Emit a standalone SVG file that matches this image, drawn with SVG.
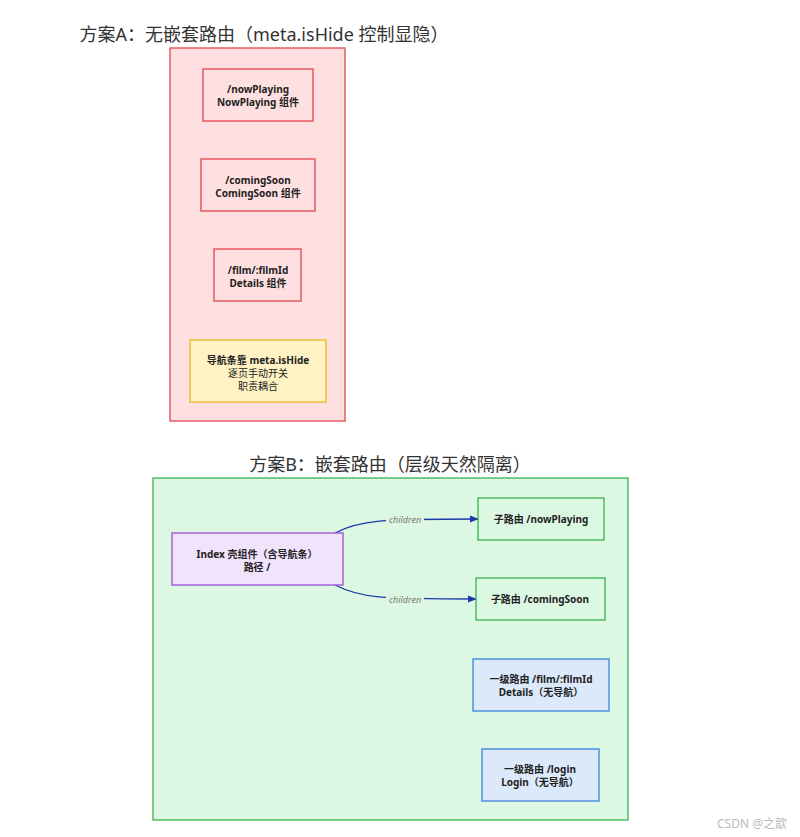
<svg xmlns="http://www.w3.org/2000/svg" width="800" height="837" viewBox="0 0 800 837">
<style>
text{font-family:"Noto Sans","Noto Sans CJK SC",sans-serif;text-anchor:middle;fill:#222}
.t{font-size:18px;fill:#333}
.n{font-size:10px;font-weight:bold}
.r{fill:none;stroke:#e0474c;stroke-width:1.3}
.g{fill:none;stroke:#37b24d;stroke-width:1.3}
.e{fill:none;stroke:#1c3aa9;stroke-width:1.3}
.l{font-size:9px;font-style:italic;fill:#777}
</style>
<defs><marker id="a" viewBox="0 0 10 10" refX="9" refY="5" markerWidth="7" markerHeight="7" orient="auto"><path d="M0,1L10,5L0,9z" fill="#1c3aa9"/></marker></defs>
<rect width="800" height="837" fill="#fff"/>
<g id="clusterA"><rect x="170" y="48" width="175" height="373" fill="#ffe0e0" stroke="#e0474c" stroke-width="1.3"/><text class="t" x="264" y="41">方案A：无嵌套路由（meta.isHide 控制显隐）</text></g>
<g id="clusterB"><rect x="153" y="478" width="475" height="342" fill="#dcf8e3" stroke="#37b24d" stroke-width="1.3"/><text class="t" x="390" y="471">方案B：嵌套路由（层级天然隔离）</text></g>
<g id="a1"><rect class="r" x="203" y="69" width="110" height="52"/><text class="n" x="258" y="93">/nowPlaying</text><text class="n" x="258" y="106">NowPlaying 组件</text></g>
<g id="a2"><rect class="r" x="201" y="159" width="114" height="52"/><text class="n" x="258" y="184">/comingSoon</text><text class="n" x="258" y="197">ComingSoon 组件</text></g>
<g id="a3"><rect class="r" x="214" y="249" width="87" height="52"/><text class="n" x="258" y="274">/film/:filmId</text><text class="n" x="258" y="287">Details 组件</text></g>
<g id="a4"><rect x="190" y="340" width="136" height="62" fill="#fff3c4" stroke="#e8b923" stroke-width="1.3"/><text class="n" x="258" y="364">导航条靠 meta.isHide</text><text x="258" y="377" font-size="10">逐页手动开关</text><text x="258" y="390" font-size="10">职责耦合</text></g>
<g id="edges">
<path class="e" d="M335,533 C360,520 380,519 478,519" marker-end="url(#a)"/>
<path class="e" d="M335,585 C360,598 380,599 476,599" marker-end="url(#a)"/>
<rect x="386" y="514" width="38" height="11" fill="#dcf8e3"/><text class="l" x="405" y="523">children</text>
<rect x="386" y="594" width="38" height="11" fill="#dcf8e3"/><text class="l" x="405" y="603">children</text>
</g>
<g id="b0"><rect x="172" y="533" width="171" height="52" fill="#f2e3fc" stroke="#9b4dd4" stroke-width="1.3"/><text class="n" x="257" y="558">Index 壳组件（含导航条）</text><text class="n" x="257" y="571">路径 /</text></g>
<g id="b1"><rect class="g" x="478" y="498" width="126" height="42"/><text class="n" x="541" y="523">子路由 /nowPlaying</text></g>
<g id="b2"><rect class="g" x="476" y="578" width="129" height="42"/><text class="n" x="540" y="603">子路由 /comingSoon</text></g>
<g id="b3"><rect x="473" y="659" width="136" height="52" fill="#dbe9fb" stroke="#3b82e0" stroke-width="1.3"/><text class="n" x="541" y="683">一级路由 /film/:filmId</text><text class="n" x="541" y="696">Details（无导航）</text></g>
<g id="b4"><rect x="482" y="749" width="117" height="52" fill="#dbe9fb" stroke="#3b82e0" stroke-width="1.3"/><text class="n" x="540" y="773">一级路由 /login</text><text class="n" x="540" y="786">Login（无导航）</text></g>
<text x="752" y="828" font-size="12" fill="#bbb" style="fill:#bbb">CSDN @之歆</text>
</svg>
